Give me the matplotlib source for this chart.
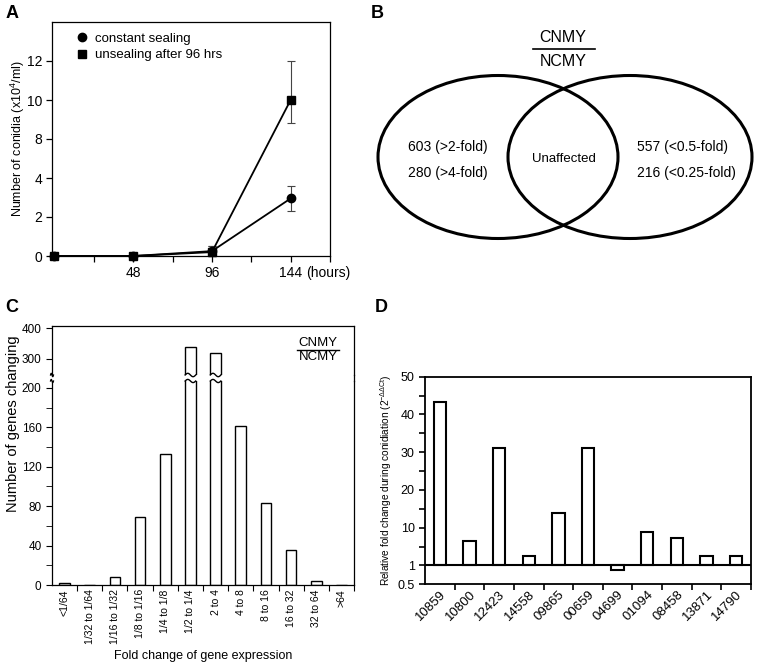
import numpy as np
import matplotlib
matplotlib.use("Agg")
import matplotlib.pyplot as plt
from matplotlib.patches import Ellipse
from matplotlib.lines import Line2D

plt.rcParams["font.family"] = ["Liberation Sans", "DejaVu Sans"]
plt.rcParams["mathtext.fontset"] = "custom"
plt.rcParams["mathtext.rm"] = "Liberation Sans"
plt.rcParams["mathtext.it"] = "Liberation Sans:italic"

# ---------------------------------------------------------------------------
# Data
# ---------------------------------------------------------------------------

# A: conidia counts
hours = [0, 48, 96, 144]
sealed = [0, 0, 0.25, 2.95]
sealed_err = [0, 0, 0.25, 0.65]
unsealed = [0, 0, 0.2, 10.0]
unsealed_err_lo = [0, 0, 0.2, 1.2]
unsealed_err_hi = [0, 0, 0.3, 2.0]
a_yticks = [0, 2, 4, 8, 10, 12]

# B: venn counts
venn_left = ["603 (>2-fold)", "280 (>4-fold)"]
venn_right = ["557 (<0.5-fold)", "216 (<0.25-fold)"]

# C: distribution of fold changes
fold_bins = ["<1/64", "1/32 to 1/64", "1/16 to 1/32", "1/8 to 1/16", "1/4 to 1/8",
             "1/2 to 1/4", "2 to 4", "4 to 8", "8 to 16", "16 to 32", "32 to 64", ">64"]
gene_counts = [2, 0, 8, 69, 133, 340, 318, 161, 83, 36, 4, 0]

# D: qPCR validation
genes = ["10859", "10800", "12423", "14558", "09865", "00659",
         "04699", "01094", "08458", "13871", "14790"]
fold_change = [43.2, 6.5, 31.0, 3.1, 14.0, 31.0, 0.88, 8.9, 7.2, 2.9, 2.9]

W, H = 757, 665


def box(left, top, right, bottom):
    """pixel box -> figure fraction rect"""
    return [left / W, 1 - bottom / H, (right - left) / W, (bottom - top) / H]


def fpx(x, y):
    return x / W, 1 - y / H


fig = plt.figure(figsize=(W / 100, H / 100), dpi=100)

# ---------------------------------------------------------------------------
# A
# ---------------------------------------------------------------------------

def a_fwd(v):
    v = np.asarray(v, float)
    return np.where(v < 4, v, np.where(v < 8, 4 + (v - 4) / 2, v - 2))


def a_inv(p):
    p = np.asarray(p, float)
    return np.where(p < 4, p, np.where(p < 6, 4 + (p - 4) * 2, p + 2))


axA = fig.add_axes(box(52, 22, 330, 256))
axA.set_yscale("function", functions=(a_fwd, a_inv))
eb1 = axA.errorbar(hours, sealed, yerr=sealed_err, fmt="-o", color="black", ms=6,
                   lw=1.3, capsize=3, ecolor="#444444", elinewidth=0.8, capthick=0.8)
eb2 = axA.errorbar(hours, unsealed, yerr=[unsealed_err_lo, unsealed_err_hi], fmt="-s",
                   color="black", ms=6, lw=1.3, capsize=3, ecolor="#444444",
                   elinewidth=0.8, capthick=0.8)
for c in (eb1, eb2):
    for art in c.get_children():
        art.set_clip_on(False)
axA.set_xlim(-1.5, 167.5)
axA.set_ylim(0, 14)
axA.set_xticks([48, 96, 144])
axA.set_xticks([24, 72, 120, 168], minor=True)
axA.set_yticks(a_yticks)
axA.set_yticklabels([str(t) for t in a_yticks])
axA.yaxis.set_minor_locator(matplotlib.ticker.NullLocator())
axA.tick_params(which="both", direction="out", length=4, width=0.9, labelsize=10, pad=3)
axA.set_ylabel("Number of conidia (x10$^4$/ml)", fontsize=9)
axA.yaxis.set_label_coords(-0.09, 0.5)
axA.annotate("(hours)", xy=(144, 0), xycoords=("data", "axes fraction"),
             xytext=(11, -7), textcoords="offset points", ha="left", va="top", fontsize=10)
handles = [Line2D([], [], marker="o", ls="none", color="black", ms=6),
           Line2D([], [], marker="s", ls="none", color="black", ms=5.5)]
axA.legend(handles, ["constant sealing", "unsealing after 96 hrs"], loc="upper left",
           bbox_to_anchor=(0.045, 1.005), frameon=False, fontsize=9.5,
           handlelength=0.8, handletextpad=0.6, labelspacing=0.3)
for s in axA.spines.values():
    s.set_linewidth(0.9)

# ---------------------------------------------------------------------------
# B
# ---------------------------------------------------------------------------

axB = fig.add_axes(box(370, 0, 757, 290))
axB.set_xlim(370, 757)
axB.set_ylim(290, 0)
axB.axis("off")
axB.add_patch(Ellipse((498, 157), 240, 163, fill=False, lw=2.2, ec="black"))
axB.add_patch(Ellipse((630, 157), 244, 163, fill=False, lw=2.2, ec="black"))
axB.text(563, 38, "CNMY", ha="center", va="center", fontsize=11.5)
axB.plot([533, 595], [48.5, 48.5], color="black", lw=1.2)
axB.text(563, 62, "NCMY", ha="center", va="center", fontsize=11.5)
axB.text(408, 147, venn_left[0], ha="left", va="center", fontsize=10)
axB.text(408, 173, venn_left[1], ha="left", va="center", fontsize=10)
axB.text(564, 159, "Unaffected", ha="center", va="center", fontsize=9.5)
axB.text(637, 147, venn_right[0], ha="left", va="center", fontsize=10)
axB.text(637, 173, venn_right[1], ha="left", va="center", fontsize=10)

# ---------------------------------------------------------------------------
# C  (broken y axis)
# ---------------------------------------------------------------------------

axC = fig.add_axes(box(52, 381, 354, 585))
axCt = fig.add_axes(box(52, 326, 354, 375))
x = np.arange(len(fold_bins))
bw = 0.42
for a in (axC, axCt):
    a.bar(x, gene_counts, width=bw, color="white", edgecolor="black", lw=1.0)
    a.set_xlim(-0.5, len(fold_bins) - 0.5)
    for s in a.spines.values():
        s.set_linewidth(0.9)
axC.set_ylim(0, 207)
axCt.set_ylim(248, 407)
axC.spines["top"].set_visible(False)
axCt.spines["bottom"].set_visible(False)
axC.set_yticks(np.arange(0, 201, 40))
axC.set_yticks(np.arange(20, 200, 40), minor=True)
axCt.set_yticks([300, 400])
axC.set_xticks(np.arange(0.5, len(fold_bins), 1.0))
axC.set_xticklabels([])
axC.set_xticks(x, minor=True)
axC.set_xticklabels(fold_bins, minor=True, rotation=90, fontsize=7.5)
axC.tick_params(axis="x", which="minor", length=0, pad=3)
axC.tick_params(axis="x", which="major", length=4, direction="out")
axC.tick_params(axis="y", which="both", length=4, direction="out", labelsize=8.5)
axCt.tick_params(axis="y", which="both", length=4, direction="out", labelsize=8.5)
axCt.set_xticks([])

# wavy break marks on the tall bars and the left spine
t = np.linspace(0, 1, 30)
for xi, v in zip(x, gene_counts):
    if v > 207:
        xs = xi - bw / 2 + bw * t
        axC.plot(xs, 207 + 1.6 * np.sin(2 * np.pi * t), color="black", lw=1.0, clip_on=False)
        axCt.plot(xs, 248 + 5.5 * np.sin(2 * np.pi * t), color="black", lw=1.0, clip_on=False)
for a, yy, amp in ((axC, 207, 1.6), (axCt, 248, 5.5)):
    a.plot(-0.5 - 0.06 + 0.12 * t, yy + amp * np.sin(2 * np.pi * t), color="black",
           lw=0.9, clip_on=False)

# right spine across the gap
fig.add_artist(Line2D([354 / W, 354 / W], [1 - 381 / H, 1 - 375 / H], color="black", lw=0.9))

fig.text(*fpx(13, 424), "Number of genes changing", rotation=90, ha="center",
         va="center", fontsize=10.5)
fig.text(*fpx(203, 656), "Fold change of gene expression", ha="center", va="center",
         fontsize=9)
fig.text(*fpx(318, 343), "CNMY", ha="center", va="center", fontsize=9.5)
fig.add_artist(Line2D([297 / W, 339 / W], [1 - 349.5 / H] * 2, color="black", lw=1.0))
fig.text(*fpx(318, 357), "NCMY", ha="center", va="center", fontsize=9.5)

# ---------------------------------------------------------------------------
# D
# ---------------------------------------------------------------------------

def d_fwd(v):
    v = np.asarray(v, float)
    return np.where(v < 1, (v - 1) * 10, np.where(v < 5, (v - 1) * 1.25, v))


def d_inv(p):
    p = np.asarray(p, float)
    return np.where(p < 0, 1 + p / 10, np.where(p < 5, 1 + p * 0.8, p))


axD = fig.add_axes(box(425, 376.7, 751, 584.3))
axD.set_yscale("function", functions=(d_fwd, d_inv))
xd = np.arange(len(genes))
axD.bar(xd, np.array(fold_change) - 1, bottom=1, width=0.42, color="white",
        edgecolor="black", lw=1.5)
axD.axhline(1, color="black", lw=1.5)
axD.set_ylim(0.5, 50)
axD.set_xlim(-0.5, len(genes) - 0.5)
d_major = [0.5, 1, 10, 20, 30, 40, 50]
axD.set_yticks(d_major)
axD.set_yticklabels(["0.5", "1", "10", "20", "30", "40", "50"])
axD.set_yticks([5, 15, 25, 35, 45], minor=True)
axD.set_yticklabels([], minor=True)
axD.set_xticks(np.arange(0.5, len(genes), 1.0))
axD.set_xticklabels([])
axD.set_xticks(xd, minor=True)
axD.set_xticklabels(genes, minor=True, rotation=45, ha="right", va="top",
                    rotation_mode="anchor", fontsize=9.5)
axD.tick_params(axis="x", which="minor", length=0, pad=3)
axD.tick_params(axis="x", which="major", length=4, direction="out", width=1.2)
axD.tick_params(axis="y", which="both", length=4, direction="out", width=1.2, labelsize=9)
for s in axD.spines.values():
    s.set_linewidth(1.3)
axD.set_ylabel("Relative fold change during conidiation (2$^{-\\Delta\\Delta\\mathrm{Ct}}$)",
               fontsize=7.3)
axD.yaxis.set_label_coords(-0.095, 0.5)

# panel letters
for lab, (px_, py_) in zip("ABCD", [(12, 14), (377, 14), (12, 307), (381, 307)]):
    fig.text(*fpx(px_, py_), lab, ha="center", va="center", fontsize=13, fontweight="bold")

fig.savefig("out.png", dpi=100)
